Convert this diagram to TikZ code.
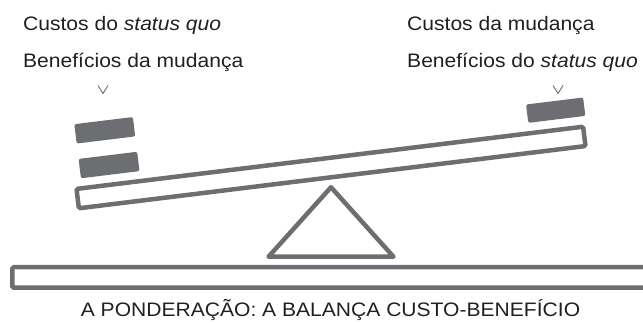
\documentclass[tikz,border=0pt]{standalone}
\usepackage{fontspec}
\setmainfont{Liberation Sans}[FakeStretch=1.08]
\usetikzlibrary{calc}
\definecolor{scalegray}{HTML}{6D6E71}
\definecolor{textdark}{HTML}{231F20}

\begin{document}
\begin{tikzpicture}[x=1pt,y=1pt,
		bar/.style={draw=scalegray,line width=4.5pt,rounded corners=1.5pt},
		weight/.style={fill=scalegray,rounded corners=2pt,minimum width=59pt,minimum height=19.5pt,inner sep=0pt,transform shape},
		chevron/.style={draw=scalegray,line width=0.9pt},
		sidetext/.style={text=textdark,font=\fontsize{19.5}{23}\selectfont,inner sep=0pt,anchor=base west},
		captiontext/.style={text=textdark,font=\fontsize{19.5}{23}\selectfont,inner sep=0pt,anchor=base}]
			\useasboundingbox (0,0) rectangle (643,323);
			\clip (0,0) rectangle (643,323);
			
			% Side texts (what weighs on each end)
			\node[sidetext] (leftA) at (23,292) {Custos do \textit{status quo}};
			\node[sidetext] (leftB) at (23,255) {Benefícios da mudança};
			\node[sidetext] (rightA) at (407,292) {Custos da mudança};
			\node[sidetext] (rightB) at (407,255) {Benefícios do \textit{status quo}};
			
			% Small pointers under the texts
			\coordinate (tipL) at (103,229.5);
			\coordinate (tipR) at (558,229.5);
			\foreach \t in {tipL,tipR}{
				\draw[chevron] ($(\t)+(-5,8)$) -- (\t) -- ($(\t)+(5,8)$);
			}
			
			% Tilted beam
			\node[bar,minimum width=510.4pt,minimum height=19.5pt,rotate=7] (beam) at (331,155.5) {};
			
			% Weights sitting on the beam
			\begin{scope}[shift={(beam.center)},rotate=7]
				\node[weight] (weightLa) at (-220,64.5) {};
				\node[weight] (weightLb) at (-220,29.5) {};
				\node[weight,minimum width=57.5pt,minimum height=18.5pt] (weightR) at (230,29.5) {};
			\end{scope}
			
			% Fulcrum
			\coordinate (apex) at (331,135.75);
			\draw[draw=scalegray,line width=4.5pt,line join=round] (apex) -- (393.5,66.25) -- (268.5,66.25) -- cycle;
			
			% Ground
			\draw[bar] (12.25,35.25) rectangle (670,55.75);
			
			% Caption
			\node[captiontext] (caption) at (330.5,6) {A PONDERAÇÃO: A BALANÇA CUSTO-BENEFÍCIO};
			
		\end{tikzpicture}
\end{document}
